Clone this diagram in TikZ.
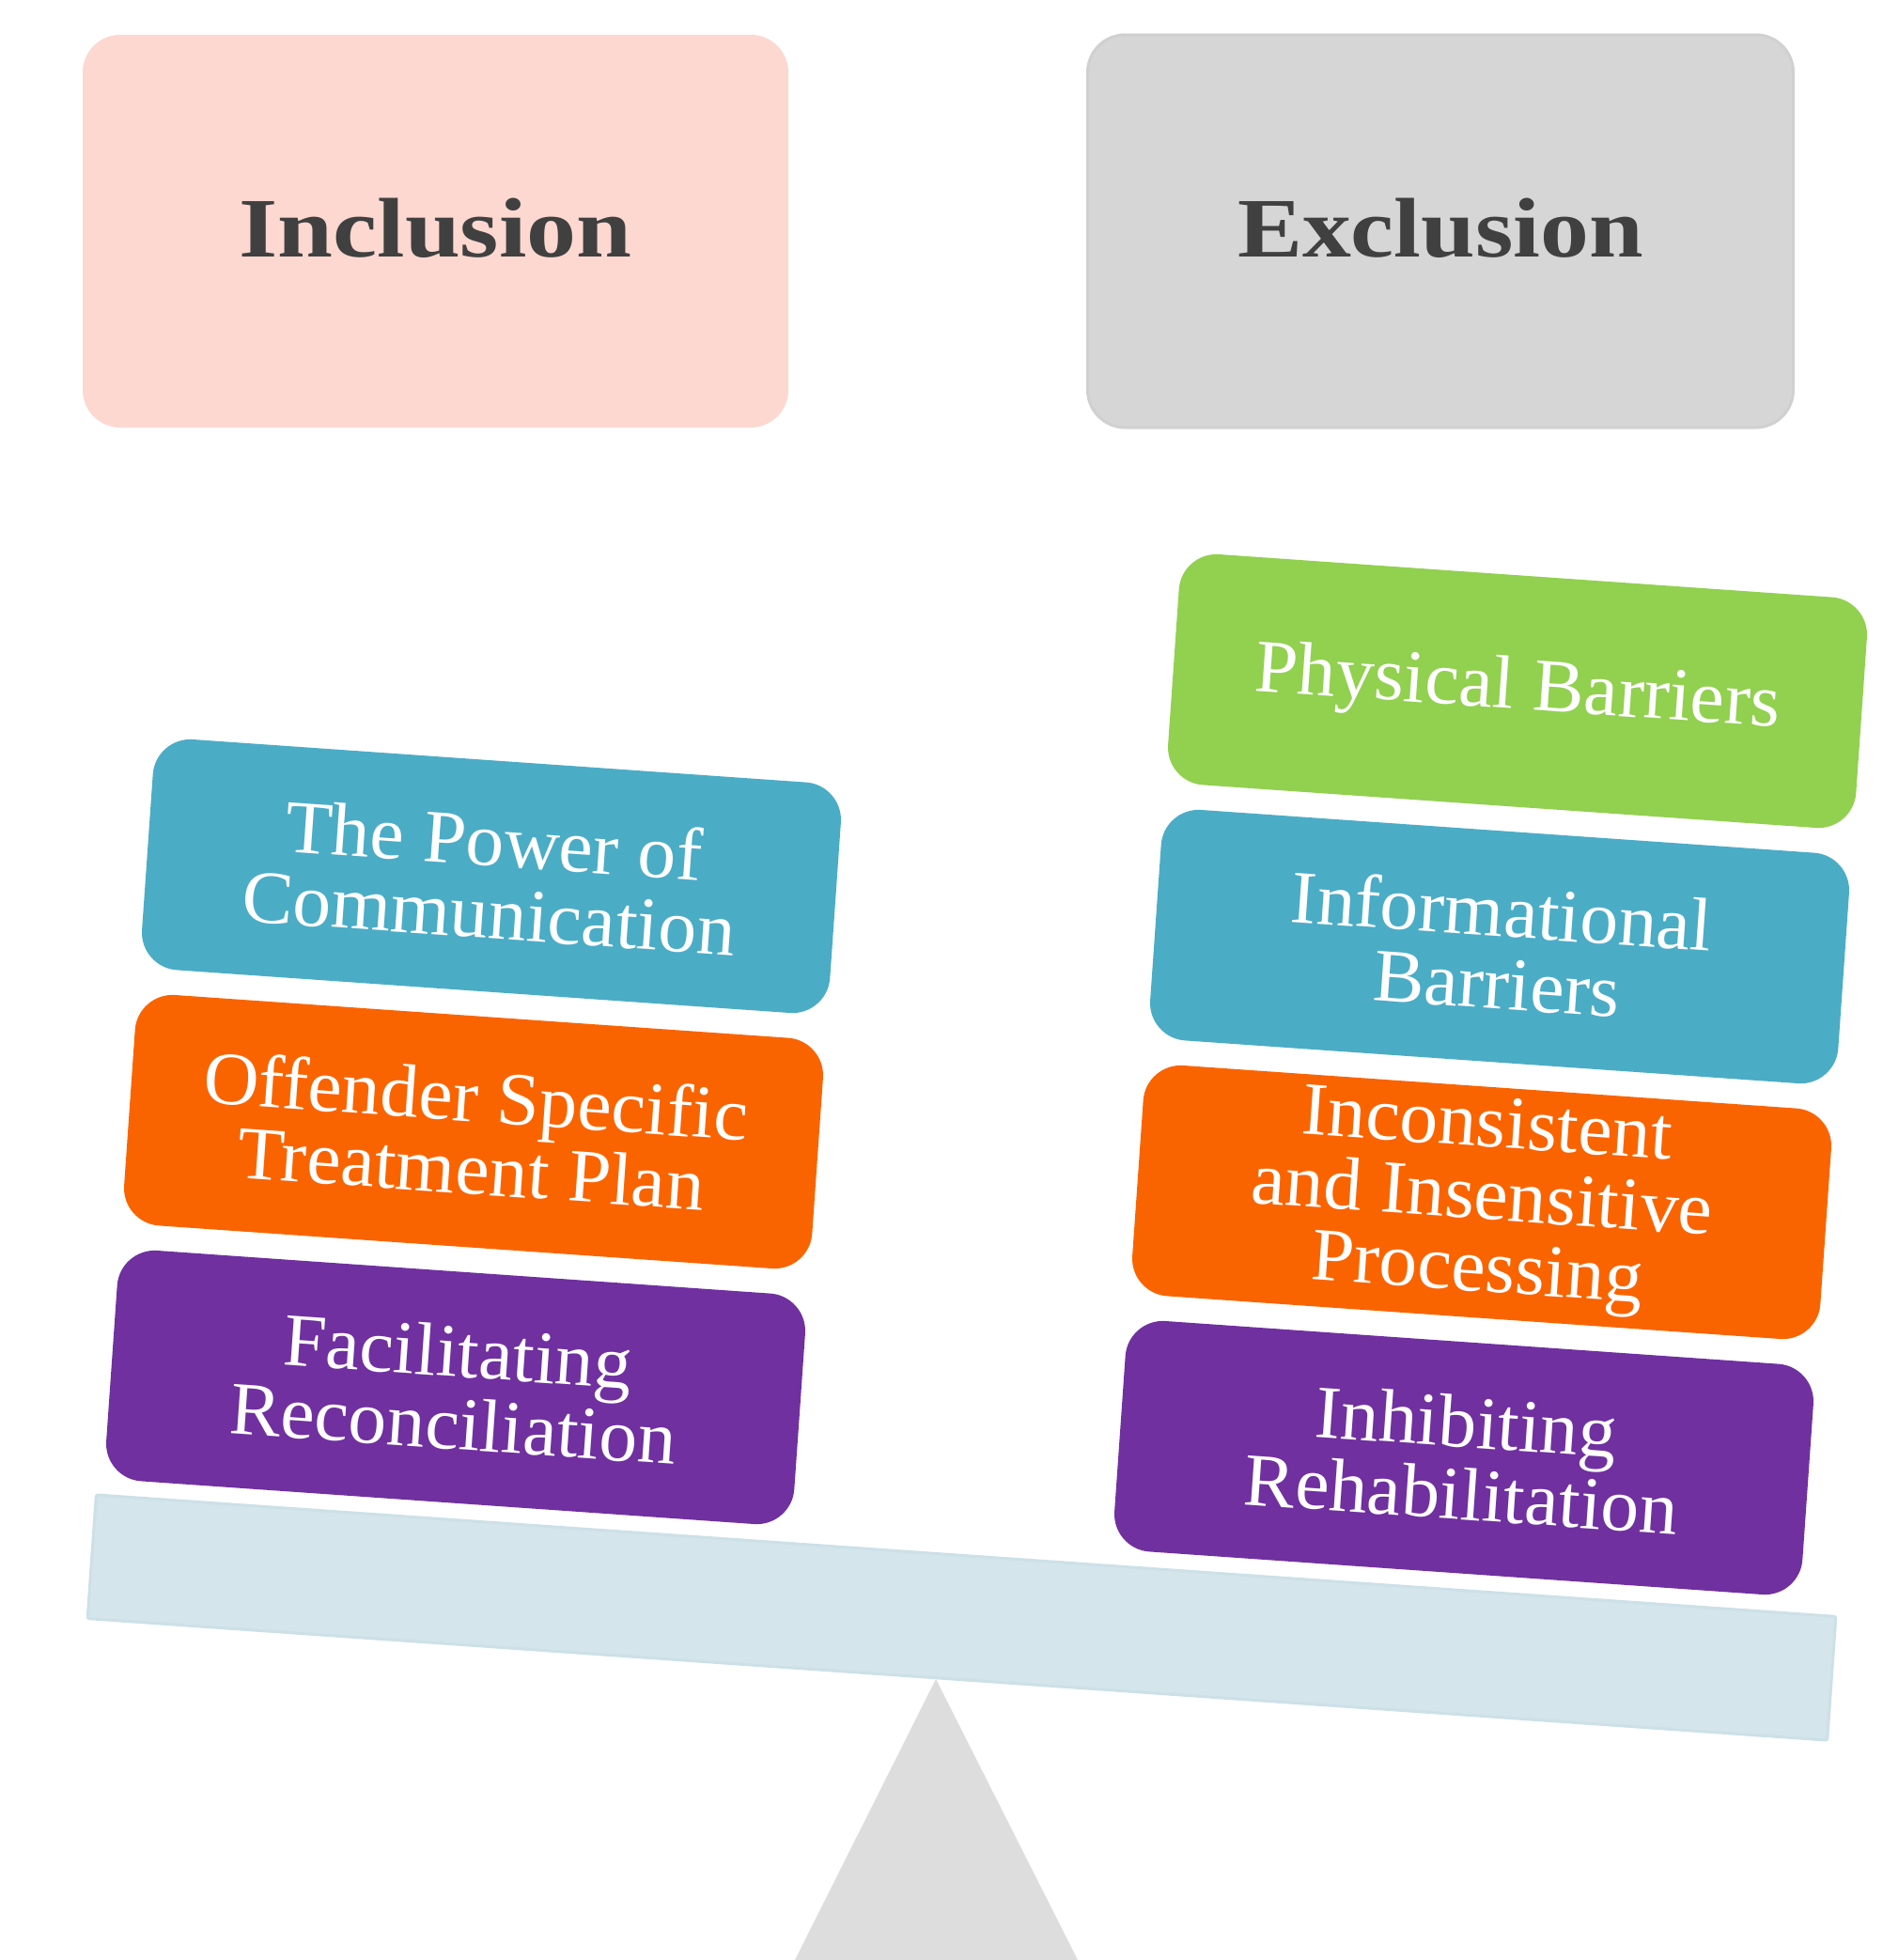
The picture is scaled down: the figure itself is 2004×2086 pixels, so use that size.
\documentclass[tikz,border=0pt]{standalone}
\usepackage{fontspec}
\setmainfont{Liberation Serif}
\newfontfamily\itemfont{Liberation Serif}[FakeStretch=1.02]
\usepackage{graphicx}
\definecolor{inclfill}{HTML}{FDD8D1}
\definecolor{exclfill}{HTML}{D6D6D6}
\definecolor{excldraw}{HTML}{D0D0D0}
\definecolor{hdrtext}{HTML}{404040}
\definecolor{cblue}{HTML}{4BACC6}
\definecolor{corange}{HTML}{FA6400}
\definecolor{cpurple}{HTML}{7030A0}
\definecolor{cgreen}{HTML}{92D050}
\definecolor{beamfill}{HTML}{D4E5EC}
\definecolor{beamdraw}{HTML}{CDE0E8}
\definecolor{fulcfill}{HTML}{DDDDDD}
\begin{document}
\begin{tikzpicture}[x=1pt,y=-1pt,
  hdrbox/.style={rectangle, rounded corners=40pt, inner sep=0pt,
    minimum width=751pt, minimum height=418pt, text=hdrtext,
    font=\fontsize{90}{90}\selectfont\bfseries},
  itembox/.style={rectangle, rounded corners=40pt, inner sep=0pt,
    minimum width=734pt, minimum height=246pt, rotate=-4, text=white,
    align=center, font=\itemfont\fontsize{80}{77}\selectfont},
  beambox/.style={rectangle, inner sep=0pt, minimum width=1856pt,
    minimum height=132pt, rotate=-4, fill=beamfill, draw=beamdraw,
    line width=3pt, rounded corners=2pt},
  fulcrum/.style={fill=fulcfill}]
\useasboundingbox (0,0) rectangle (2004,2086);
\fill[white] (0,0) rectangle (2004,2086);

% headers
\node[hdrbox, fill=inclfill] (incl) at (463.5,246)
  {\raisebox{7pt}{\resizebox{418pt}{\height}{Inclusion}}};
\node[hdrbox, fill=exclfill, draw=excldraw, line width=3pt] (excl) at (1533,246)
  {\raisebox{7pt}{\resizebox{432pt}{\height}{Exclusion}}};

% fulcrum
\coordinate (apex) at (996,1787);
\coordinate (baseL) at (846,2086);
\coordinate (baseR) at (1147,2086);
\fill[fulcrum] (apex) -- (baseL) -- (baseR) -- cycle;

% beam
\node[beambox] (beam) at (1023.5,1721.5) {};

% left stack
\node[itembox, fill=cblue] (l1) at (523,932.5) {The Power of\\Communication};
\node[itembox, fill=corange] (l2) at (504,1204.5) {Offender Specific\\Treatment Plan};
\node[itembox, fill=cpurple] (l3) at (485,1476.5) {Facilitating\\Reconciliation};

% right stack
\node[itembox, fill=cgreen] (r1) at (1615,735.5) {Physical Barriers};
\node[itembox, fill=cblue] (r2) at (1596,1007.5) {Informational\\Barriers};
\node[itembox, fill=corange] (r3) at (1577,1279.5) {Inconsistent\\and Insensitive\\Processing};
\node[itembox, fill=cpurple] (r4) at (1558,1551.5) {Inhibiting\\Rehabilitation};
\end{tikzpicture}
\end{document}
